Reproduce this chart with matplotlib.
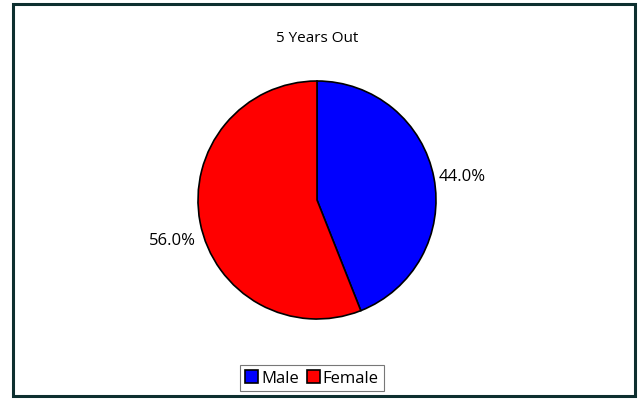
import matplotlib
matplotlib.use("Agg")
import matplotlib.pyplot as plt
from matplotlib.patches import Rectangle
import numpy as np

plt.rcParams['font.family'] = ['Open Sans', 'DejaVu Sans']

title = "5 Years Out"
labels = ["Male", "Female"]
shares = [44.0, 56.0]
colors = ["#0000ff", "#ff0000"]

fig = plt.figure(figsize=(6.39, 4.02), dpi=100)

# outer frame
fig.patches.append(Rectangle((13 / 639, 5 / 402), 622 / 639, 392 / 402,
                             transform=fig.transFigure, fill=False,
                             edgecolor="#0d2f2f", linewidth=2.2))

fig.text(317 / 639, 1 - 38 / 402, title, ha="center", va="center", fontsize=11)

r = 119
ax = fig.add_axes([(317 - r) / 639, (201 - r) / 402, 2 * r / 639, 2 * r / 402])
wedges, texts = ax.pie(shares, colors=colors, startangle=90, counterclock=False,
                       wedgeprops=dict(edgecolor="black", linewidth=1.2))[:2]
ax.set_xlim(-1, 1)
ax.set_ylim(-1, 1)
ax.set_aspect("equal")

for w, s in zip(wedges, shares):
    mid = np.deg2rad((w.theta1 + w.theta2) / 2)
    ax.text(1.24 * np.cos(mid), 1.24 * np.sin(mid) - (0.1 if np.sin(mid) < 0 else 0.03),
            "%.1f%%" % s, ha="center", va="center", fontsize=12)

fig.legend(wedges, labels, loc="center", bbox_to_anchor=(312 / 639, 1 - 379 / 402),
           ncol=2, frameon=True, fancybox=False, edgecolor="#555555", fontsize=12,
           handlelength=0.8, handleheight=0.8, handletextpad=0.15, columnspacing=0.5,
           borderpad=0.3, borderaxespad=0)
fig.legends[0].get_frame().set_linewidth(0.8)

fig.savefig("out.png", dpi=100)
